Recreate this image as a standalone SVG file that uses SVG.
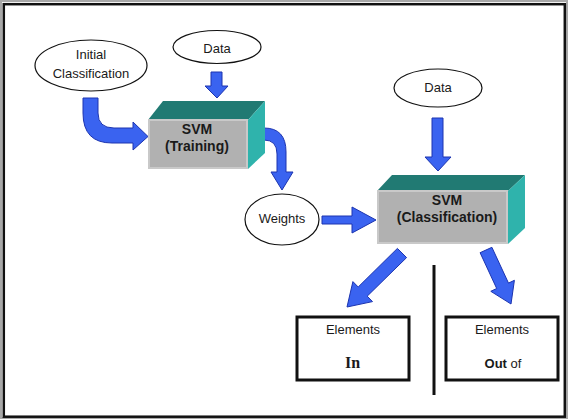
<svg xmlns="http://www.w3.org/2000/svg" width="569" height="420" viewBox="0 0 569 420">
<style>
.arr{fill:#3a63f0;stroke:#1c34b0;stroke-width:1;stroke-linejoin:miter}
.ell{fill:#fff;stroke:#111;stroke-width:1.2}
.lbl{font-family:"Liberation Sans",Arial,sans-serif;font-size:13px;fill:#1a1a1a;text-anchor:middle}
.bold{font-family:"Liberation Sans",Arial,sans-serif;font-size:14px;font-weight:bold;fill:#1a1a1a;text-anchor:middle}
.top{fill:#217a73}
.side{fill:#2fb3ac}
.front{fill:#b1b1b1;stroke:#c9c9c9;stroke-width:2}
.box{fill:#fff;stroke:#111;stroke-width:3}
</style>
<rect x="0" y="0" width="569" height="420" fill="#fff"/>
<rect x="1" y="1" width="566" height="417" fill="none" stroke="#a8a8a8" stroke-width="2"/>
<rect x="3.8" y="4.2" width="561" height="412.5" fill="none" stroke="#111" stroke-width="2.5"/>

<g id="connectors">
  <path class="arr" d="M211,72 L222,72 L222,86 L228,86 L217,98 L205,86 L211,86 Z"/>
  <path class="arr" d="M83,98 L98,98 L98,113 Q98,128 114,128 L133,128 L133,122 L148,136.5 L133,150 L133,143 L112,143 Q83,143 83,113 Z"/>
  <path class="arr" d="M255,128 L264,128 Q286,128 286,152 L286,172 L293,172 L282,190 L271,172 L277,172 L277,154 Q277,140 264,140 L255,140 Z"/>
  <path class="arr" d="M322,216 L352,216 L352,207 L376,220 L352,233 L352,224 L322,224 Z"/>
  <path class="arr" d="M432,118 L443,118 L443,157 L451,157 L438,171 L425,157 L432,157 Z"/>
  <path class="arr" d="M406.6,257.6 L367.2,296.2 L372.5,301.6 L347,307 L352.9,281.6 L358.2,287 L397.4,248.4 Z"/>
  <path class="arr" d="M491.9,247.3 L508.5,283.1 L514.4,280.3 L511,304 L490.8,291.3 L496.7,288.5 L480.1,252.7 Z"/>
  <line x1="434" y1="265" x2="434" y2="395" stroke="#111" stroke-width="3"/>
</g>

<g id="initial">
  <ellipse class="ell" cx="91" cy="65.5" rx="56" ry="25.5"/>
  <text class="lbl" x="91" y="59">Initial</text>
  <text class="lbl" x="91" y="78">Classification</text>
</g>

<g id="data1">
  <ellipse class="ell" cx="217" cy="47" rx="44" ry="16.5"/>
  <text class="lbl" x="217" y="53">Data</text>
</g>

<g id="svm-training">
  <polygon class="top" points="148,120 163,101 265,101 248,120"/>
  <polygon class="side" points="248,120 265,101 265,153 248,169"/>
  <rect class="front" x="149" y="120" width="98" height="48"/>
  <text class="bold" x="197" y="134">SVM</text>
  <text class="bold" x="197" y="151">(Training)</text>
</g>

<g id="weights">
  <ellipse class="ell" cx="282" cy="219.5" rx="37" ry="25.5"/>
  <text class="lbl" x="282" y="223">Weights</text>
</g>

<g id="data2">
  <ellipse class="ell" cx="438" cy="88" rx="44" ry="19"/>
  <text class="lbl" x="438" y="92">Data</text>
</g>

<g id="svm-classification">
  <polygon class="top" points="377,191 392,175 525,175 508,191"/>
  <polygon class="side" points="508,191 525,175 525,228 508,244"/>
  <rect class="front" x="378" y="191" width="129" height="52"/>
  <text class="bold" x="447" y="205">SVM</text>
  <text class="bold" x="447" y="222">(Classification)</text>
</g>

<g id="elements-in">
  <rect class="box" x="297" y="317" width="112" height="63"/>
  <text class="lbl" x="353" y="334" font-size="13.5">Elements</text>
  <text x="352.5" y="368" font-family="'Liberation Serif','Times New Roman',serif" font-size="16" font-weight="bold" fill="#1a1a1a" text-anchor="middle">In</text>
</g>

<g id="elements-out">
  <rect class="box" x="446" y="317" width="112" height="63"/>
  <text class="lbl" x="502" y="334" font-size="13.5">Elements</text>
  <text class="lbl" x="503" y="368" font-size="14"><tspan font-weight="bold">Out</tspan> of</text>
</g>
</svg>
